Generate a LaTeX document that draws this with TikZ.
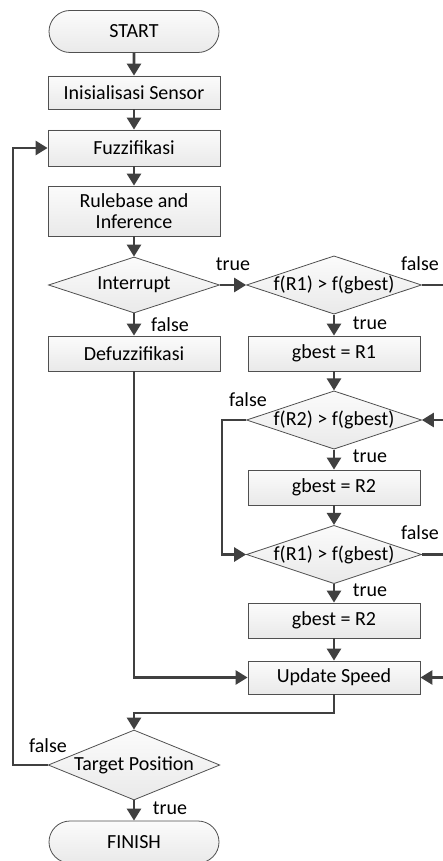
\documentclass[tikz,border=0pt]{standalone}
\usepackage{fontspec}
\setmainfont{Carlito}
\usetikzlibrary{shapes.geometric,shapes.misc,arrows.meta}

\definecolor{linegray}{HTML}{404040}
\definecolor{boxline}{HTML}{505050}

\begin{document}
\begin{tikzpicture}[x=1pt,y=-1pt,
  font=\fontsize{20}{24}\selectfont,
  process/.style={rectangle, draw=boxline, line width=0.8pt, top color=gray!3, bottom color=gray!17,
    minimum width=172pt, inner sep=1pt, align=center},
  term/.style={rounded rectangle, draw=boxline, line width=0.8pt, top color=gray!3, bottom color=gray!17,
    minimum width=172pt, minimum height=42pt, inner sep=1pt},
  decision/.style={diamond, draw=boxline, line width=0.8pt, top color=gray!3, bottom color=gray!17,
    minimum width=171pt, inner sep=0pt, aspect=3},
  flow/.style={draw=linegray, line width=2.6pt, -{Triangle[length=12pt,width=14pt]}},
  plain/.style={draw=linegray, line width=2.6pt},
  lbl/.style={inner sep=1pt}
]
 \useasboundingbox (0,0) rectangle (443,861);

 % main column
 \node[term]    (start)  at (134,31.5)  {START};
 \node[process, minimum height=33pt] (init)   at (134,92.5)  {Inisialisasi Sensor};
 \node[process, minimum height=36pt] (fuzz)   at (134,148)   {Fuzzifikasi};
 \node[process, minimum height=50pt] (rule)   at (134,211)   {Rulebase and\\[-3pt]Inference};
 \node[decision, minimum height=56pt] (intr)  at (134,285)   {Interrupt};
 \node[process, minimum height=35pt] (defuz)  at (134,353.5) {Defuzzifikasi};
 \node[decision, minimum height=70pt] (target) at (134,765)  {Target Position};
 \node[term]    (finish) at (134,842)   {FINISH};

 % right column
 \node[decision, minimum height=56pt] (cmpa)  at (334,285)   {f(R1) > f(gbest)};
 \node[process, minimum height=35pt] (gba)    at (334,353.5) {gbest = R1};
 \node[decision, minimum height=54pt] (cmpb)  at (334,420)   {f(R2) > f(gbest)};
 \node[process, minimum height=35pt] (gbb)    at (334,487.5) {gbest = R2};
 \node[decision, minimum height=55pt] (cmpc)  at (334,554.5) {f(R1) > f(gbest)};
 \node[process, minimum height=35pt] (gbc)    at (334,620.5) {gbest = R2};
 \node[process, minimum height=33pt] (upd)    at (334,677.5) {Update Speed};

 % free ends at the right edge
 \coordinate (ea) at (443,285);
 \coordinate (eb) at (443,420);
 \coordinate (ec) at (443,554.5);
 \coordinate (ed) at (443,677.5);

 % connectors
 \draw[flow] (start) -- (init);
 \draw[flow] (init) -- (fuzz);
 \draw[flow] (fuzz) -- (rule);
 \draw[flow] (rule) -- (intr);
 \draw[flow] (intr) -- (defuz);
 \draw[flow] (intr) -- (cmpa);
 \draw[flow] (cmpa) -- (gba);
 \draw[flow] (gba) -- (cmpb);
 \draw[flow] (cmpb) -- (gbb);
 \draw[flow] (gbb) -- (cmpc);
 \draw[flow] (cmpc) -- (gbc);
 \draw[flow] (gbc) -- (upd);
 \draw[plain] (cmpa.east) -- (ea);
 \draw[plain] (cmpc.east) -- (ec);
 \draw[flow] (eb) -- (cmpb.east);
 \draw[flow] (ed) -- (upd.east);
 \draw[flow] (cmpb.west) -- (222,420) -- (222,554.5) -- (cmpc.west);
 \draw[flow] (defuz.south) |- (upd.west);
 \draw[flow] (upd.south) -- (334,713) -- (134,713) -- (target.north);
 \draw[flow] (target.west) -- (13,765) -- (13,148) -- (fuzz.west);
 \draw[flow] (target) -- (finish);

 % labels
 \node[lbl] (ltrue)  at (233,264) {true};
 \node[lbl] (lfalsea) at (420,264) {false};
 \node[lbl] (ltrueb) at (370,323) {true};
 \node[lbl] (lfalseb) at (170,325) {false};
 \node[lbl] (lfalsec) at (248,400) {false};
 \node[lbl] (ltruec) at (370,456) {true};
 \node[lbl] (lfalsed) at (420,533) {false};
 \node[lbl] (ltrued) at (370,590) {true};
 \node[lbl] (lfalsee) at (48,746) {false};
 \node[lbl] (ltruee) at (170,808) {true};

\end{tikzpicture}
\end{document}
